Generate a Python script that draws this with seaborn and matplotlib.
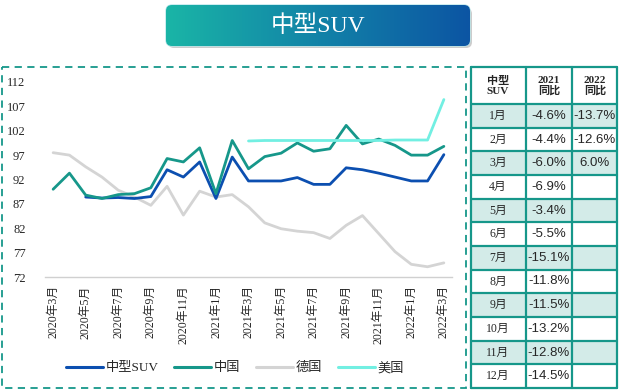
import numpy as np
import pandas as pd
import matplotlib.pyplot as plt
import seaborn as sns
from matplotlib.patches import Rectangle, FancyBboxPatch
from matplotlib.lines import Line2D

# monthly index values, 2020-03 .. 2022-03
months = ['2020年3月', '2020年4月', '2020年5月', '2020年6月', '2020年7月', '2020年8月',
          '2020年9月', '2020年10月', '2020年11月', '2020年12月', '2021年1月', '2021年2月',
          '2021年3月', '2021年4月', '2021年5月', '2021年6月', '2021年7月', '2021年8月',
          '2021年9月', '2021年10月', '2021年11月', '2021年12月', '2022年1月', '2022年2月',
          '2022年3月']
suv = [np.nan, np.nan, 88.4, 88.2, 88.3, 88.1, 88.5, 94.0, 92.5, 95.6, 88.1, 96.6,
       91.7, 91.7, 91.7, 92.4, 91.0, 91.0, 94.4, 94.0, 93.3, 92.5, 91.7, 91.7, 97.1]
china = [90.0, 93.3, 88.8, 88.1, 88.9, 89.1, 90.3, 96.3, 95.6, 98.5, 89.1, 100.0,
         94.2, 96.7, 97.4, 99.5, 97.8, 98.3, 103.1, 99.3, 100.3, 99.0, 97.0, 97.0, 98.8]
germany = [97.5, 97.0, 94.6, 92.5, 89.8, 88.4, 86.7, 90.6, 84.7, 89.6, 88.4, 88.9,
           86.4, 83.1, 81.9, 81.4, 81.1, 79.9, 82.6, 84.6, 80.9, 77.2, 74.6, 74.1, 74.9]
usa = [np.nan] * 12 + [99.9, 100.0, 100.0, 100.0, 100.0, 100.0, 100.0, 100.0,
                       100.0, 100.1, 100.1, 100.1, 108.4]

# yoy table
tbl_months = ['1月', '2月', '3月', '4月', '5月', '6月', '7月', '8月', '9月', '10月', '11月', '12月']
yoy_2021 = ['-4.6%', '-4.4%', '-6.0%', '-6.9%', '-3.4%', '-5.5%', '-15.1%', '-11.8%',
            '-11.5%', '-13.2%', '-12.8%', '-14.5%']
yoy_2022 = ['-13.7%', '-12.6%', '6.0%', '', '', '', '', '', '', '', '', '']

sns.set_style('white')
SERIF = ['Liberation Serif', 'Noto Sans CJK SC']
plt.rcParams['font.family'] = SERIF
plt.rcParams['axes.unicode_minus'] = False

TEAL = '#16978a'
BLUE = '#0c4fb0'
GRAY = '#d4d4d4'
CYAN = '#72efe2'

fig = plt.figure(figsize=(6.2, 3.92), dpi=100)

# decoration layer in pixel coords
deco = fig.add_axes([0, 0, 1, 1])
deco.set_xlim(0, 620)
deco.set_ylim(392, 0)
deco.axis('off')

# dashed frame around chart
deco.add_patch(Rectangle((2, 67), 464, 321, fill=False, ec=TEAL, lw=1.3,
                         ls=(0, (4, 3))))

# title box with gradient
shadow = FancyBboxPatch((168, 8), 304, 40, boxstyle='round,pad=0,rounding_size=6',
                        fc='#9a9a9a', ec='none', alpha=0.5)
deco.add_patch(shadow)
box = FancyBboxPatch((166, 5), 304, 41, boxstyle='round,pad=0,rounding_size=6',
                     fc='none', ec='#b8e6ea', lw=1)
deco.add_patch(box)
grad = np.linspace(0, 1, 256).reshape(1, -1)
from matplotlib.colors import LinearSegmentedColormap
cmap = LinearSegmentedColormap.from_list('tb', ['#1ab5a6', '#1283a8', '#0c55a3'])
im = deco.imshow(grad, cmap=cmap, extent=(166, 470, 46, 5), aspect='auto', zorder=1)
im.set_clip_path(box)
deco.set_xlim(0, 620)
deco.set_ylim(392, 0)
deco.text(318, 26, '中型SUV', color='white', fontsize=17, ha='center', va='center',
          family=SERIF, zorder=3)

# table
x_cols = [471, 526, 572, 617]
y_head = (67, 104)
row_h = (388 - 104) / 12
for i in range(12):
    y0 = 104 + i * row_h
    if i % 2 == 0:
        deco.add_patch(Rectangle((471, y0), 146, row_h, fc='#d3ebe8', ec='none'))
    deco.text(498, y0 + row_h / 2, tbl_months[i], ha='center', va='center',
              fontsize=8.5, family=SERIF)
    deco.text(549, y0 + row_h / 2, yoy_2021[i], ha='center', va='center',
              fontsize=9.5, family=['Liberation Sans', 'Noto Sans CJK SC'])
    deco.text(595, y0 + row_h / 2, yoy_2022[i], ha='center', va='center',
              fontsize=9.5, family=['Liberation Sans', 'Noto Sans CJK SC'])
for xc in x_cols:
    deco.plot([xc, xc], [67, 388], color=TEAL, lw=1.6)
for k in range(13):
    yy = 104 + k * row_h
    deco.plot([471, 617], [yy, yy], color=TEAL, lw=1.6)
deco.plot([471, 617], [67, 67], color=TEAL, lw=1.6)
for xc, txt in zip([498, 549, 595], ['中型\nSUV', '2021\n同比', '2022\n同比']):
    deco.text(xc, 86, txt, ha='center', va='center', fontsize=8, fontweight='bold',
              family=SERIF, linespacing=1.1)

# chart
ax = fig.add_axes([45 / 620, 115 / 392, 407 / 620, 195 / 392])
ax.patch.set_alpha(0)
idx = np.arange(len(months))
df = pd.DataFrame({'idx': idx, 'suv': suv, 'china': china, 'germany': germany, 'usa': usa})

sns.lineplot(data=df.dropna(subset=['germany']), x='idx', y='germany', ax=ax, color=GRAY, lw=2.0, zorder=2)
sns.lineplot(data=df.dropna(subset=['suv']), x='idx', y='suv', ax=ax, color=BLUE, lw=2.0, zorder=3)
sns.lineplot(data=df.dropna(subset=['china']), x='idx', y='china', ax=ax, color=TEAL, lw=2.0, zorder=4)
sns.lineplot(data=df.dropna(subset=['usa']), x='idx', y='usa', ax=ax, color=CYAN, lw=2.0, zorder=5)

ax.set_xlim(-0.5, 24.5)
ax.set_ylim(72, 112)
ax.set_yticks(np.arange(72, 113, 5))
ax.tick_params(axis='y', length=0, labelsize=9, pad=14)
ax.set_xticks(idx[::2])
ax.set_xticklabels(months[::2], rotation=90, fontsize=8.5)
ax.set_xticks(np.arange(-0.5, 24, 2), minor=True)
ax.tick_params(axis='x', which='major', length=0, pad=6)
ax.tick_params(axis='x', which='minor', length=4, color='#d0d0d0', width=0.8)
ax.set_xlabel('')
ax.set_ylabel('')
for s in ['left', 'right', 'top']:
    ax.spines[s].set_visible(False)
ax.spines['bottom'].set_color('#d0d0d0')
ax.spines['bottom'].set_linewidth(1)

handles = [Line2D([], [], color=c, lw=2.2) for c in [BLUE, TEAL, GRAY, CYAN]]
fig.legend(handles, ['中型SUV', '中国', '德国', '美国'], loc='center',
           bbox_to_anchor=(235 / 620, 1 - 368 / 392), ncol=4, frameon=False,
           fontsize=9.5, handlelength=2.8, columnspacing=1.2, handletextpad=0.2)

fig.savefig('out.png', dpi=100)
